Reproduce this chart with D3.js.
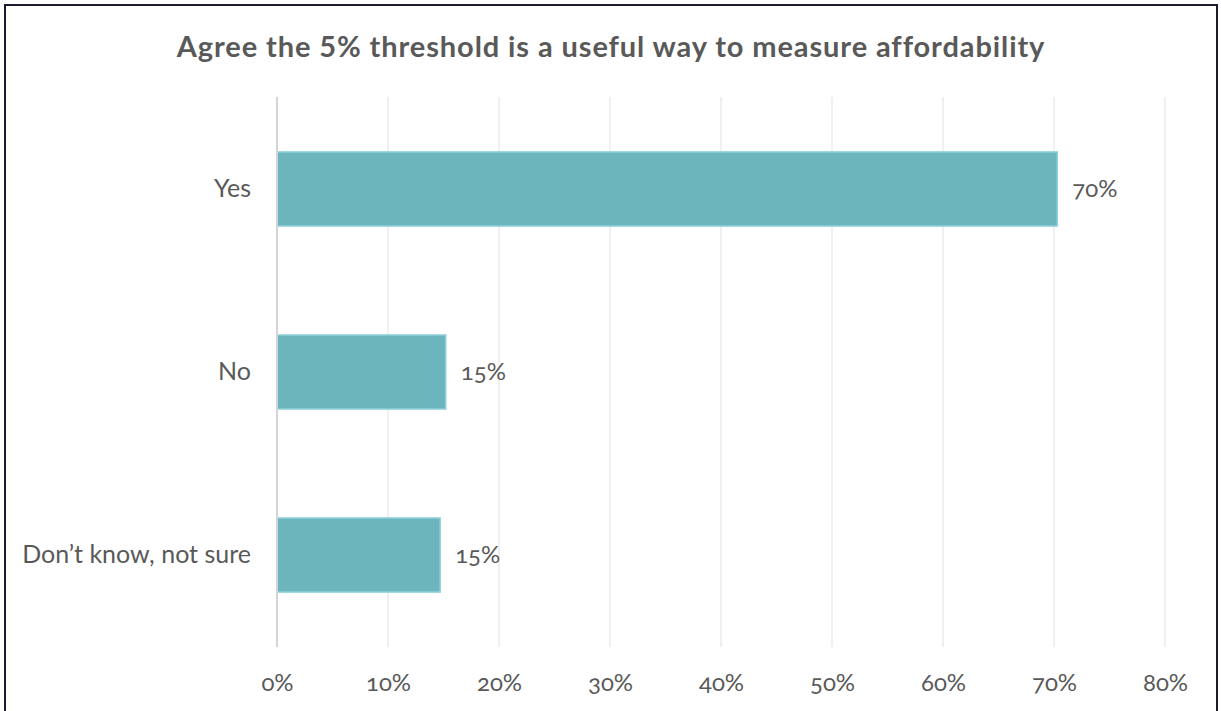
<!DOCTYPE html>
<html>
<head>
<meta charset="utf-8">
<script src="https://cdn.jsdelivr.net/npm/d3@7"></script>
<style>
  html, body { margin: 0; padding: 0; background: #fff; }
  svg { display: block; font-family: Lato, "Open Sans", sans-serif; }
  .num { font-family: Lato, "Open Sans", sans-serif; font-variant-numeric: oldstyle-nums; font-feature-settings: "onum" 1; }
</style>
</head>
<body>
<svg id="chart" width="1221" height="711"></svg>
<script>
// Survey responses (share of respondents)
const categories = ["Yes", "No", "Don\u2019t know, not sure"];
const shares = [0.703, 0.152, 0.147];
const tickValues = [0, 0.1, 0.2, 0.3, 0.4, 0.5, 0.6, 0.7, 0.8];
const title = "Agree the 5% threshold is a useful way to measure affordability";

const svg = d3.select("#chart");
const W = 1221, H = 711;
const margin = { left: 277, right: 56, top: 97, bottom: 64 };

// Chart frame
svg.append("rect")
  .attr("x", 5).attr("y", 5)
  .attr("width", W - 9).attr("height", H + 10)
  .attr("fill", "#fff").attr("stroke", "#1b1b2f").attr("stroke-width", 2);

const x = d3.scaleLinear().domain([0, 0.8]).range([margin.left, W - margin.right]);
const y = d3.scaleBand().domain(categories)
  .range([margin.top, H - margin.bottom]).paddingInner(0.595).paddingOuter(0.3);

// Vertical gridlines
svg.append("g").selectAll("line").data(tickValues.slice(1)).join("line")
  .attr("x1", d => x(d)).attr("x2", d => x(d))
  .attr("y1", margin.top).attr("y2", H - margin.bottom)
  .attr("stroke", "#ebebeb").attr("stroke-width", 1.5);

// Bars
svg.append("g").selectAll("rect").data(categories).join("rect")
  .attr("x", x(0))
  .attr("y", d => y(d))
  .attr("width", (d, i) => x(shares[i]) - x(0))
  .attr("height", y.bandwidth())
  .attr("fill", "#6db5bd")
  .attr("stroke", "#8fd3da").attr("stroke-width", 1.5);

// Category axis line
svg.append("line")
  .attr("x1", x(0)).attr("x2", x(0))
  .attr("y1", margin.top).attr("y2", H - margin.bottom)
  .attr("stroke", "#d4d4d4").attr("stroke-width", 2);

// Bottom axis
const xAxis = d3.axisBottom(x).tickValues(tickValues).tickFormat(d3.format(".0%")).tickSize(0).tickPadding(0);
const gx = svg.append("g").attr("transform", `translate(0, ${H - margin.bottom})`).call(xAxis);
gx.select(".domain").remove();
gx.selectAll("text")
  .attr("class", "num")
  .attr("dy", null).attr("y", 44)
  .attr("font-size", 24)
  .attr("fill", "#595959");

// Left axis labels
const yAxis = d3.axisLeft(y).tickSize(0).tickPadding(26);
const gy = svg.append("g").attr("transform", `translate(${x(0)}, 0)`).call(yAxis);
gy.select(".domain").remove();
gy.selectAll("text")
  .attr("font-size", 25).attr("font-family", "Lato, 'Open Sans', sans-serif")
  .attr("fill", "#595959");

// Value labels
svg.append("g").selectAll("text").data(categories).join("text")
  .attr("class", "num")
  .attr("x", (d, i) => x(shares[i]) + 15)
  .attr("y", d => y(d) + y.bandwidth() / 2)
  .attr("dy", "0.35em")
  .attr("font-size", 24).attr("fill", "#595959")
  .text((d, i) => d3.format(".0%")(shares[i]));

// Title
svg.append("text")
  .attr("x", 611).attr("y", 57)
  .attr("text-anchor", "middle")
  .attr("font-size", 29).attr("font-weight", "bold").attr("fill", "#595959")
  .attr("letter-spacing", 0.9)
  .text(title);
</script>
</body>
</html>
